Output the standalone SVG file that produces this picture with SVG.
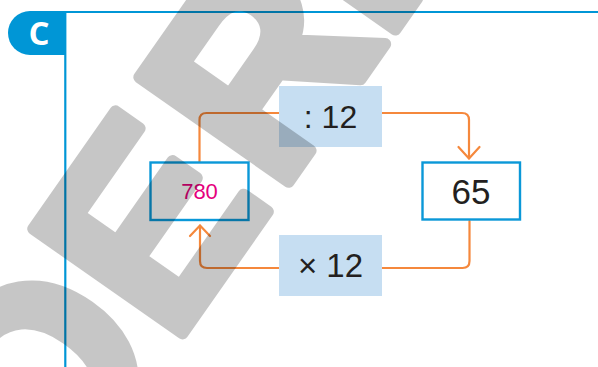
<svg xmlns="http://www.w3.org/2000/svg" width="598" height="367" viewBox="0 0 598 367">
<style>
.frame{stroke:#0096d6;stroke-width:2.2;fill:none}
.node{fill:#fff;stroke:#0a98d8;stroke-width:2.4}
.op{fill:#c6def2}
.conn{fill:none;stroke:#f5883c;stroke-width:2.2;stroke-linecap:round;stroke-linejoin:round}
.num{font-family:"Liberation Sans",Arial,sans-serif;fill:#231f20;text-anchor:middle}
.wm{font-family:"Liberation Sans",Arial,sans-serif;font-weight:bold;fill:#000;stroke:#000;stroke-width:12;stroke-linejoin:round}
</style>
<rect width="598" height="367" fill="#fff"/>
<g id="header">
<line class="frame" x1="65" y1="12" x2="598" y2="12"/>
<line class="frame" x1="65.3" y1="11" x2="65.3" y2="367"/>
<path d="M66,11 H30 A22,22 0 0 0 30,55 H66 Z" fill="#0096d6"/>
<text x="39" y="45" font-family="'Open Sans','Liberation Sans',sans-serif" font-weight="bold" font-size="33" fill="#fff" text-anchor="middle">C</text>
</g>
<g id="connectors">
<path class="conn" d="M199.5,162 V120 Q199.5,113 206.5,113 H462 Q469,113 469,120 V158.5"/>
<polyline class="conn" points="458.5,147 469,158.5 479.5,147"/>
<path class="conn" d="M469.5,221 V261 Q469.5,268 462.5,268 H207 Q200,268 200,261 V225.5"/>
<polyline class="conn" points="190,236 200,225.5 210,236"/>
</g>
<g id="node-780">
<rect class="node" x="150.5" y="162.5" width="98" height="57.5"/>
<text class="num" x="199.5" y="199" font-size="22" style="fill:#e5007d">780</text>
</g>
<g id="node-65">
<rect class="node" x="422.5" y="162.5" width="97.5" height="57"/>
<text class="num" x="471" y="204" font-size="35">65</text>
</g>
<g id="op-divide">
<rect class="op" x="279" y="86" width="103" height="61"/>
<text class="num" x="330.5" y="128" font-size="32">: 12</text>
</g>
<g id="op-multiply">
<rect class="op" x="279" y="235" width="103" height="61"/>
<text class="num" x="330.5" y="277" font-size="33">× 12</text>
</g>
<g id="watermark" opacity="0.22">
<text class="wm" transform="translate(176,348) rotate(-55)" x="-211 -2 183 369" y="-3" font-size="265">OERI</text>
</g>
</svg>
